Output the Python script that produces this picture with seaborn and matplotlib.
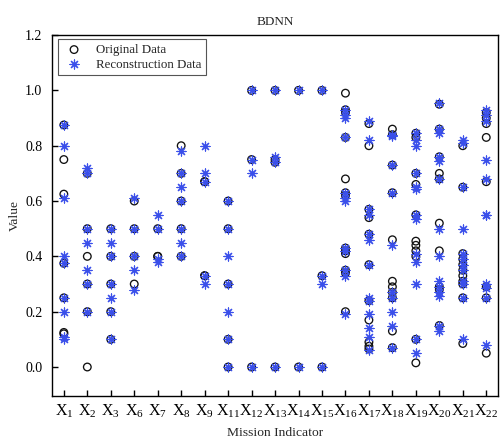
import numpy as np
import pandas as pd
import matplotlib
matplotlib.use("Agg")
import matplotlib.pyplot as plt
import seaborn as sns

categories = ["X1", "X2", "X3", "X6", "X7", "X8", "X9", "X11", "X12", "X13", "X14",
              "X15", "X16", "X17", "X18", "X19", "X20", "X21", "X22"]

orig_X1 = [0.875, 0.75, 0.625, 0.375, 0.25, 0.125, 0.12]
rec_X1 = [0.875, 0.8, 0.61, 0.4, 0.375, 0.25, 0.2, 0.11, 0.1]
orig_X2 = [0.7, 0.5, 0.4, 0.3, 0.2, 0.0]
rec_X2 = [0.72, 0.7, 0.5, 0.45, 0.35, 0.3, 0.2]
orig_X3 = [0.5, 0.4, 0.3, 0.2, 0.1]
rec_X3 = [0.5, 0.45, 0.4, 0.3, 0.25, 0.2, 0.1]
orig_X6 = [0.6, 0.5, 0.4, 0.3]
rec_X6 = [0.61, 0.5, 0.4, 0.35, 0.28]
orig_X7 = [0.5, 0.4, 0.4]
rec_X7 = [0.55, 0.5, 0.39, 0.38]
orig_X8 = [0.8, 0.7, 0.6, 0.5, 0.4]
rec_X8 = [0.78, 0.7, 0.65, 0.6, 0.5, 0.45, 0.4]
orig_X9 = [0.67, 0.67, 0.33, 0.33]
rec_X9 = [0.8, 0.7, 0.67, 0.33, 0.3]
orig_X11 = [0.6, 0.5, 0.3, 0.1, 0.0]
rec_X11 = [0.6, 0.5, 0.4, 0.3, 0.2, 0.1, 0.0]
orig_X12 = [1.0, 0.75, 0.0]
rec_X12 = [1.0, 0.75, 0.7, 0.0]
orig_X13 = [1.0, 0.75, 0.74, 0.0]
rec_X13 = [1.0, 0.76, 0.74, 0.0]
orig_X14 = [1.0, 0.0]
rec_X14 = [1.0, 0.0]
orig_X15 = [1.0, 0.33, 0.0]
rec_X15 = [1.0, 0.33, 0.3, 0.0]
orig_X16 = [0.99, 0.93, 0.92, 0.83, 0.68, 0.63, 0.62, 0.43, 0.42, 0.41, 0.35, 0.34, 0.2]
rec_X16 = [0.93, 0.91, 0.9, 0.83, 0.63, 0.61, 0.6, 0.43, 0.42, 0.35, 0.33, 0.19]
orig_X17 = [0.88, 0.8, 0.57, 0.54, 0.48, 0.37, 0.24, 0.17, 0.09, 0.075, 0.065]
rec_X17 = [0.89, 0.82, 0.57, 0.55, 0.48, 0.46, 0.37, 0.25, 0.24, 0.19, 0.14, 0.11, 0.06]
orig_X18 = [0.86, 0.84, 0.73, 0.63, 0.46, 0.31, 0.29, 0.27, 0.25, 0.13, 0.07]
rec_X18 = [0.84, 0.835, 0.73, 0.63, 0.44, 0.27, 0.25, 0.2, 0.15, 0.07]
orig_X19 = [0.845, 0.83, 0.7, 0.66, 0.55, 0.455, 0.44, 0.42, 0.40, 0.1, 0.015]
rec_X19 = [0.845, 0.82, 0.8, 0.7, 0.65, 0.645, 0.55, 0.535, 0.41, 0.38, 0.3, 0.1, 0.05]
orig_X20 = [0.95, 0.86, 0.76, 0.7, 0.68, 0.52, 0.42, 0.29, 0.28, 0.15]
rec_X20 = [0.955, 0.86, 0.845, 0.76, 0.745, 0.68, 0.5, 0.4, 0.31, 0.29, 0.27, 0.255, 0.15, 0.13]
orig_X21 = [0.8, 0.65, 0.41, 0.39, 0.37, 0.35, 0.33, 0.31, 0.3, 0.25, 0.085]
rec_X21 = [0.82, 0.81, 0.65, 0.5, 0.41, 0.39, 0.37, 0.35, 0.31, 0.3, 0.25, 0.1]
orig_X22 = [0.92, 0.9, 0.88, 0.83, 0.67, 0.29, 0.25, 0.05]
rec_X22 = [0.93, 0.91, 0.89, 0.75, 0.68, 0.55, 0.55, 0.3, 0.285, 0.25, 0.08]

original = [orig_X1, orig_X2, orig_X3, orig_X6, orig_X7, orig_X8, orig_X9, orig_X11,
            orig_X12, orig_X13, orig_X14, orig_X15, orig_X16, orig_X17, orig_X18,
            orig_X19, orig_X20, orig_X21, orig_X22]
reconstruction = [rec_X1, rec_X2, rec_X3, rec_X6, rec_X7, rec_X8, rec_X9, rec_X11,
                  rec_X12, rec_X13, rec_X14, rec_X15, rec_X16, rec_X17, rec_X18,
                  rec_X19, rec_X20, rec_X21, rec_X22]

tick_labels = [f"X$_{{{c[1:]}}}$" for c in categories]


def long_frame(series):
    rows = []
    for lab, vals in zip(tick_labels, series):
        for v in vals:
            rows.append((lab, v))
    return pd.DataFrame(rows, columns=["Mission Indicator", "Value"])


df_orig = long_frame(original)
df_rec = long_frame(reconstruction)

sns.set_theme(style="white")
plt.rcParams["font.family"] = ["Liberation Serif", "DejaVu Serif"]
plt.rcParams["mathtext.fontset"] = "custom"
plt.rcParams["mathtext.rm"] = "Liberation Serif"
plt.rcParams["mathtext.it"] = "Liberation Serif"

fig = plt.figure(figsize=(5.01, 4.44), dpi=100)
ax = fig.add_axes([0.104, 0.108, 0.890, 0.813])

# establish category order
ax.plot(tick_labels, [np.nan] * len(tick_labels))

sns.scatterplot(data=df_orig, x="Mission Indicator", y="Value", ax=ax,
                marker="o", s=30, facecolor="none", edgecolor="#111111",
                linewidth=0.95, label="Original Data", zorder=3)
sns.scatterplot(data=df_rec, x="Mission Indicator", y="Value", ax=ax,
                marker=(8, 2, 0), s=42, color="#3a4fea",
                linewidth=0.85, label="Reconstruction Data", zorder=4)

ax.set_xlim(-0.5, len(categories) - 0.5)
ax.set_ylim(-0.105, 1.2)
ax.set_yticks([0.0, 0.2, 0.4, 0.6, 0.8, 1.0, 1.2])
ax.set_yticklabels(["0.0", "0.2", "0.4", "0.6", "0.8", "1.0", "1.2"])

ax.tick_params(axis="both", direction="in", length=4, width=1, colors="black",
               labelsize=10, bottom=True, left=True, top=False, right=False)
ax.tick_params(axis="x", labelsize=11.5, pad=5)
ax.tick_params(axis="y", pad=7)
for sp in ax.spines.values():
    sp.set_visible(True)
    sp.set_color("black")
    sp.set_linewidth(1.0)

ax.set_xlabel("Mission Indicator", fontsize=9.7, labelpad=5)
ax.set_ylabel("Value", fontsize=9.7, labelpad=3)
ax.set_title("BDNN", fontsize=9.5, pad=7)

leg = ax.legend(loc="upper left", fontsize=9.3, frameon=True, fancybox=False,
                edgecolor="#555555", framealpha=1, borderpad=0.35, handletextpad=0.8,
                labelspacing=0.2, handlelength=1.8, borderaxespad=0,
                bbox_to_anchor=(0.013, 0.988))
leg.get_frame().set_linewidth(0.8)

fig.savefig("out.png", dpi=100)
